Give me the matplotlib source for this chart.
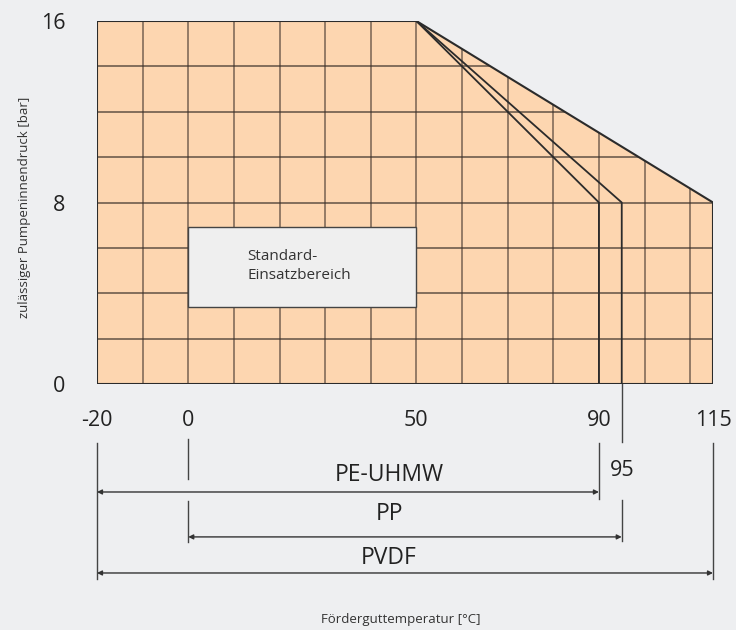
import matplotlib.pyplot as plt
from matplotlib.patches import Polygon, Rectangle

plt.rcParams['font.family'] = ['Open Sans', 'DejaVu Sans']
plt.rcParams['axes.unicode_minus'] = False

# Werte aus dem Diagramm
materialien = ['PE-UHMW', 'PP', 'PVDF']
t_min = [-20, 0, -20]          # untere Einsatztemperatur [°C]
t_max = [90, 95, 115]          # obere Einsatztemperatur [°C]
p_max = 16                     # max. Druck [bar]
p_reduziert = 8                # Druck bei oberer Temperatur [bar]
t_knick = 50                   # ab hier Druckabfall
standard_t = [0, 50]
standard_p = [3.4, 6.9]
x_ticks = [-20, 0, 50, 90, 115]
y_ticks = [0, 8, 16]

bg = '#eeeff1'
fill = '#fdd6b0'
dark = '#2b2b2b'

fig = plt.figure(figsize=(7.36, 6.3), dpi=100, facecolor=bg)
ax = fig.add_axes([97/736, (630-384)/630, (713-97)/736, (384-21)/630])
ax.set_facecolor(bg)
ax.set_xlim(min(t_min), max(t_max))
ax.set_ylim(0, p_max)
for s in ax.spines.values():
    s.set_visible(False)

# Einsatzbereich (Hüllkurve PVDF)
umriss = [(min(t_min), 0), (min(t_min), p_max), (t_knick, p_max),
          (max(t_max), p_reduziert), (max(t_max), 0)]
poly = Polygon(umriss, closed=True, facecolor=fill, edgecolor='none', zorder=1)
ax.add_patch(poly)

# Raster
for x in range(-10, 115, 10):
    l, = ax.plot([x, x], [0, p_max], color='#4a3c33', lw=1.1, alpha=0.75, zorder=2)
    l.set_clip_path(poly)
for y in range(2, p_max, 2):
    l, = ax.plot([min(t_min), max(t_max)], [y, y], color='#3a302a', lw=1.1, alpha=0.8, zorder=2)
    l.set_clip_path(poly)

# Grenzlinien der einzelnen Werkstoffe
for tm in t_max[:2]:
    ax.plot([t_knick, tm, tm], [p_max, p_reduziert, 0], color=dark, lw=1.3, zorder=3)
ax.add_patch(Polygon(umriss, closed=True, facecolor='none', edgecolor=dark, lw=1.5, zorder=4))

# Standard-Einsatzbereich
ax.add_patch(Rectangle((standard_t[0], standard_p[0]), standard_t[1]-standard_t[0],
                       standard_p[1]-standard_p[0], facecolor='#efefef',
                       edgecolor='#444444', lw=1, zorder=5))
ax.text(13, (standard_p[0]+standard_p[1])/2 + 0.05, 'Standard-\nEinsatzbereich',
        fontsize=11, color='#333333', va='center', ha='left', zorder=6, linespacing=1.4)

# Achsenbeschriftung
ax.set_xticks(x_ticks)
ax.set_yticks(y_ticks)
ax.tick_params(axis='x', length=0, pad=19, labelsize=15.5, labelcolor='#222222')
ax.tick_params(axis='y', length=0, pad=23, labelsize=15.5, labelcolor='#222222')

# Temperaturbereiche der Werkstoffe (Bemaßung)
y_pfeil = [-4.76, -6.74, -8.33]
y_text = [-4.0, -5.75, -7.65]
hilf = {-20: [(-2.6, -8.6)], 0: [(-2.42, -4.19), (-5.16, -6.96)],
        90: [(-2.6, -5.07)], 95: [(0, -2.56), (-5.11, -6.92)], 115: [(-2.6, -8.6)]}
for x, segs in hilf.items():
    for y0, y1 in segs:
        ax.plot([x, x], [y0, y1], color='#444444', lw=1, clip_on=False)
for name, a, b, yp, yt in zip(materialien, t_min, t_max, y_pfeil, y_text):
    ax.annotate('', xy=(b, yp), xytext=(a, yp), annotation_clip=False,
                arrowprops=dict(arrowstyle='<|-|>', color='#333333', lw=1,
                                mutation_scale=7, shrinkA=0, shrinkB=0))
    ax.text(44, yt, name, fontsize=16.5, ha='center', va='center', color='#222222',
            clip_on=False)
ax.text(t_max[1], -3.8, str(t_max[1]), fontsize=15.5, ha='center', va='center',
        color='#222222', clip_on=False)

fig.text(401/736, 1-620/630, 'Förderguttemperatur [°C]', fontsize=9.5,
         ha='center', va='center', color='#333333')
fig.text(25/736, 1-207/630, 'zulässiger Pumpeninnendruck [bar]', fontsize=9.5,
         rotation=90, ha='center', va='center', color='#333333')

plt.savefig('out.png', dpi=100, facecolor=bg)
